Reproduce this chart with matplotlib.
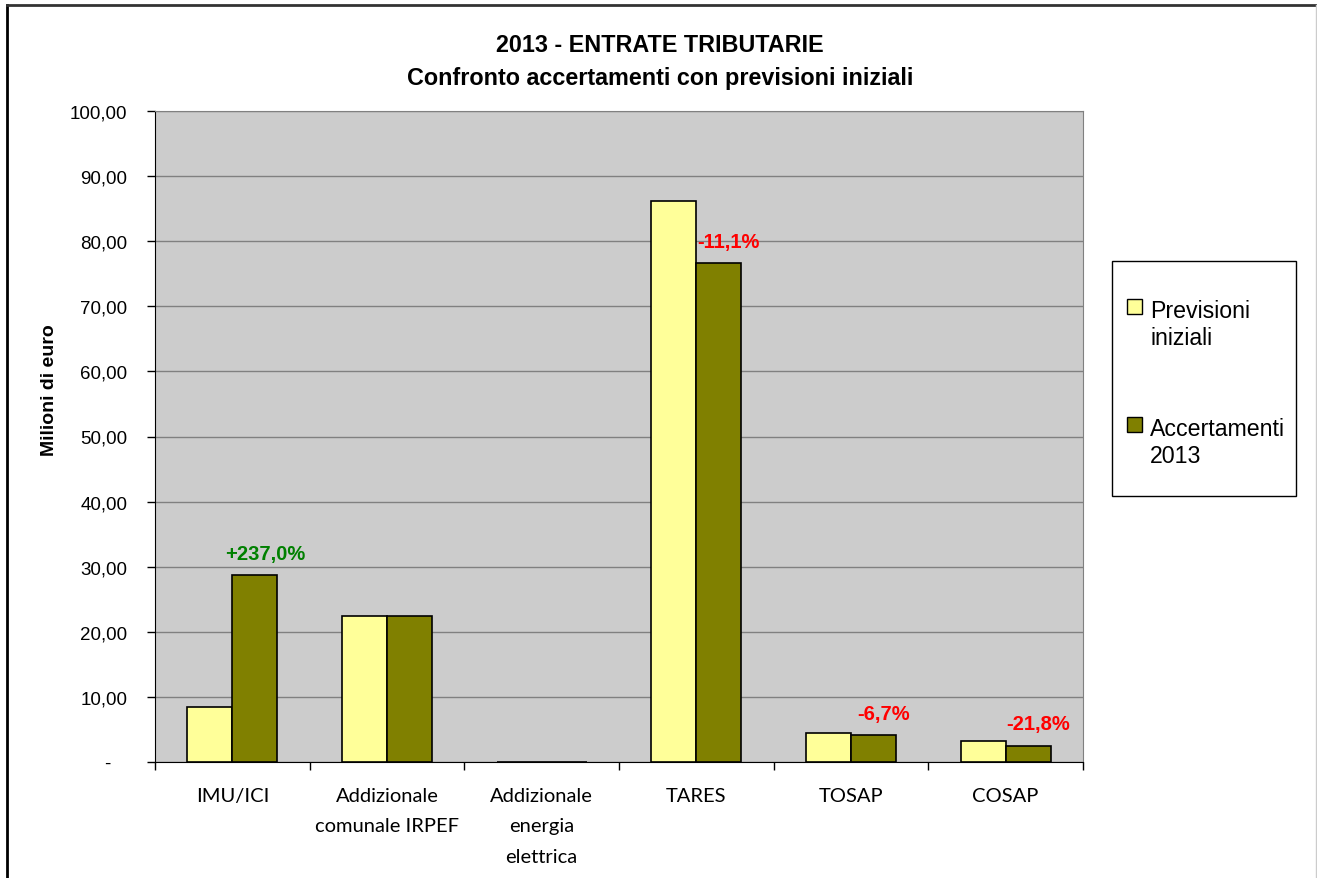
import numpy as np
import matplotlib.pyplot as plt
from matplotlib.patches import Rectangle

# entrate tributarie 2013 (milioni di euro)
categorie = ['IMU/ICI', 'Addizionale\ncomunale IRPEF', 'Addizionale\nenergia\nelettrica',
             'TARES', 'TOSAP', 'COSAP']
previsioni = [8.5, 22.4, 0.0, 86.2, 4.4, 3.2]
accertamenti = [28.65, 22.4, 0.0, 76.6, 4.1, 2.5]
variazioni = ['+237,0%', '', '', '-11,1%', '-6,7%', '-21,8%']
serie = ['Previsioni\niniziali', 'Accertamenti\n2013']
colori = ['#FFFF99', '#808000']

W, H = 1317, 879
fig = plt.figure(figsize=(W / 100, H / 100), dpi=100)
ax = fig.add_axes([155 / W, 1 - 763 / H, (1083 - 155) / W, (763 - 112) / H])
ax.set_facecolor('#CCCCCC')

x = np.arange(len(categorie))
bw = 0.29
ax.bar(x - bw / 2, previsioni, bw, color=colori[0], edgecolor='black', linewidth=1.2, zorder=3)
ax.bar(x + bw / 2, accertamenti, bw, color=colori[1], edgecolor='black', linewidth=1.2, zorder=3)

# etichette di variazione sopra le barre
for i, lab in enumerate(variazioni):
    if not lab:
        continue
    col = '#008000' if lab.startswith('+') else 'red'
    ax.annotate(lab, (x[i] + bw / 2, accertamenti[i]), xytext=(10, 22),
                textcoords='offset pixels', ha='center', va='center',
                color=col, fontsize=14.5, fontweight='bold', family='Liberation Sans')

ax.set_xlim(-0.5, len(categorie) - 0.5)
ax.set_ylim(0, 100)
yt = np.arange(0, 101, 10)
ax.set_yticks(yt)
ax.set_yticklabels(['-   '] + ['%d,00' % v for v in yt[1:]], family='Liberation Sans', fontsize=13.5)
ax.yaxis.grid(True, color='#808080', linewidth=1, zorder=0)
ax.set_axisbelow(True)

ax.set_xticks(x)
ax.set_xticklabels(categorie, family='Lato', fontsize=14.5, linespacing=1.96, va='top')
ax.set_xticks(np.arange(-0.5, len(categorie)), minor=True)
ax.tick_params(axis='x', which='major', length=0, pad=18)
ax.tick_params(axis='x', which='minor', length=6, width=1, color='black')
ax.tick_params(axis='y', length=6, width=1, pad=14)

for s in ['top', 'right']:
    ax.spines[s].set_color('#808080')
for s in ['left', 'bottom']:
    ax.spines[s].set_color('black')

fig.text(660 / W, 1 - 45 / H, '2013 - ENTRATE TRIBUTARIE', ha='center', va='center',
         fontsize=16.8, fontweight='bold', family='Liberation Sans')
fig.text(660 / W, 1 - 78 / H, 'Confronto accertamenti con previsioni iniziali', ha='center',
         va='center', fontsize=16.8, fontweight='bold', family='Liberation Sans')
fig.text(50 / W, 1 - 390 / H, 'Milioni di euro', rotation=90, ha='center', va='center',
         fontsize=14, fontweight='bold', family='Liberation Sans')

# legenda (riquadro, quadratini e testo su due righe)
px = lambda a, b: (a / W, 1 - b / H)
fig.add_artist(Rectangle(px(1112, 497), 184 / W, 235 / H, transform=fig.transFigure,
                         facecolor='white', edgecolor='black', linewidth=1))
for k, (yy, yb) in enumerate([(300, 345), (418, 463)]):
    fig.add_artist(Rectangle(px(1127, yy + 15), 15 / W, 15 / H, transform=fig.transFigure,
                             facecolor=colori[k], edgecolor='black', linewidth=1))
    fig.text(1150 / W, 1 - yb / H, serie[k], ha='left', va='baseline', fontsize=16.7,
             family='Liberation Sans', linespacing=1.23)

# cornice esterna
fig.add_artist(plt.Line2D([7 / W, 7 / W], [0, 1 - 6 / H], color='black', linewidth=2))
fig.add_artist(plt.Line2D([7 / W, 1316 / W], [1 - 6 / H, 1 - 6 / H], color='#333333', linewidth=2))
fig.add_artist(plt.Line2D([1316 / W, 1316 / W], [0, 1 - 6 / H], color='#cccccc', linewidth=1))

fig.savefig('out.png', dpi=100)
